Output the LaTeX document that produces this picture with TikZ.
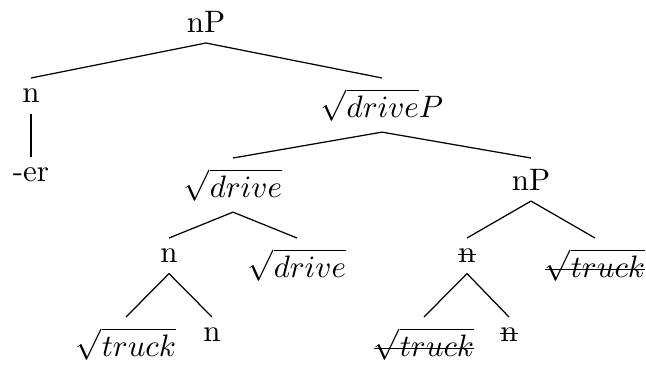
\documentclass[tikz,border=0pt]{standalone}
\usepackage{tikz}
\usetikzlibrary{positioning}
\tikzset{
  noeud/.style={anchor=north,inner sep=3.33pt},
  branche/.style={thin,color=black},
}
\newsavebox{\barrebox}
\newcommand{\barre}[2][0.58ex]{\sbox{\barrebox}{#2}\rlap{\raisebox{#1}{\rule{\wd\barrebox}{0.45pt}}}\usebox{\barrebox}}

\begin{document}
\begin{tikzpicture}[x=0.3226pt,y=-0.3226pt]
  \useasboundingbox (0,0) rectangle (646,365);
  \node[noeud,anchor=south] (r) at (206,43) {nP};
  \node[noeud] (n1) at (31,78) {n};
  \node[noeud] (dP) at (382,78) {$\sqrt{drive}P$};
  \node[noeud] (er) at (31,157) {-er};
  \node[noeud] (d1) at (233,158) {$\sqrt{drive}$};
  \node[noeud] (nP) at (531,158) {nP};
  \node[noeud] (n2) at (169,238) {n};
  \node[noeud] (d2) at (297,238) {$\sqrt{drive}$};
  \node[noeud] (n3) at (467,238) {\barre{n}};
  \node[noeud] (t1) at (595,238) {\barre{$\sqrt{truck}$}};
  \node[noeud] (t2) at (126,317) {$\sqrt{truck}$};
  \node[noeud] (n4) at (212,317) {n};
  \node[noeud] (t3) at (424,317) {\barre{$\sqrt{truck}$}};
  \node[noeud] (n5) at (509,317) {\barre{n}};
  \foreach \a/\b in {r/n1,r/dP,n1/er,dP/d1,dP/nP,d1/n2,d1/d2,nP/n3,nP/t1,n2/t2,n2/n4,n3/t3,n3/n5}
    {\draw[branche] (\a.south)--(\b.north);}
\end{tikzpicture}
\end{document}
